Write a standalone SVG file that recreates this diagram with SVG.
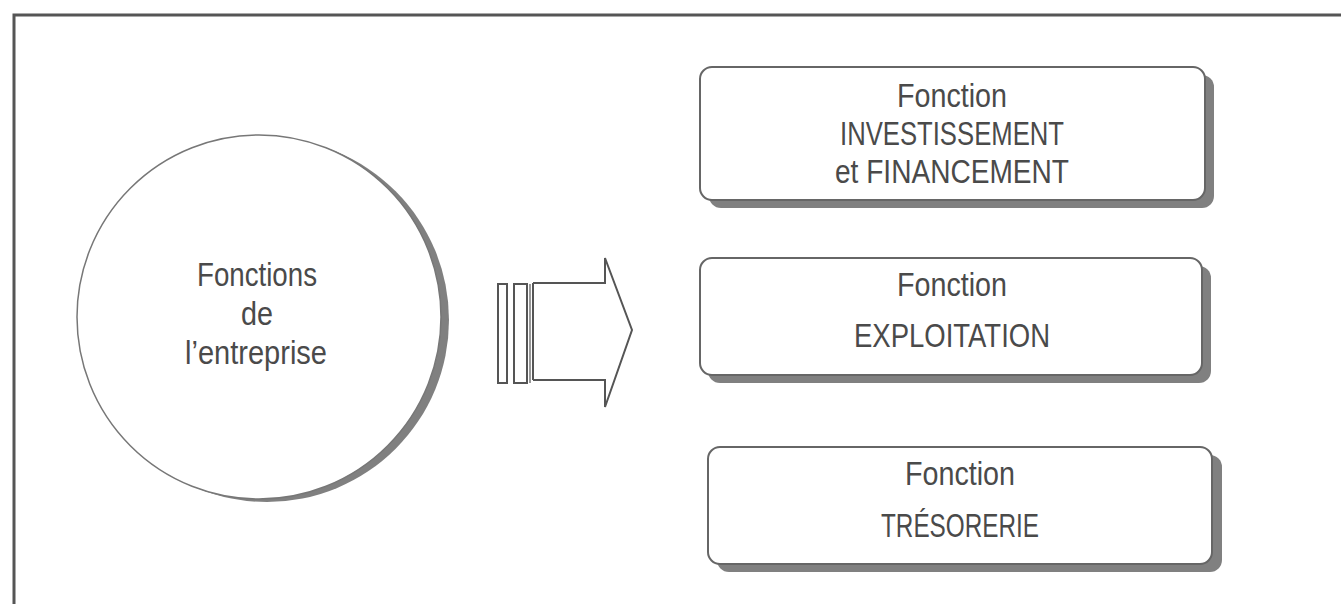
<svg xmlns="http://www.w3.org/2000/svg" width="1341" height="604" viewBox="0 0 1341 604">
<style>
.t{font-family:"Liberation Sans Narrow","Liberation Sans",Arial,sans-serif;font-size:34px;fill:#4a4a4a;text-anchor:middle}
.box{fill:#fff;stroke:#666;stroke-width:2}
.sh{fill:#808080}
.ln{fill:none;stroke:#555;stroke-width:2}
</style>
<rect width="1341" height="604" fill="#fff"/>
<path d="M14 604 V15 H1341" fill="none" stroke="#555" stroke-width="3"/>
<g id="circle">
<circle cx="267" cy="320" r="182" class="sh"/>
<circle cx="259" cy="317" r="182" fill="#fff" stroke="#777" stroke-width="1.5"/>
<text class="t" x="257" y="286" textLength="120" lengthAdjust="spacingAndGlyphs">Fonctions</text>
<text class="t" x="257" y="325" textLength="32" lengthAdjust="spacingAndGlyphs">de</text>
<text class="t" x="256" y="364" textLength="142" lengthAdjust="spacingAndGlyphs">l’entreprise</text>
</g>
<g id="connectors">
<rect x="498" y="284" width="9" height="99" fill="#fff" stroke="#555" stroke-width="2"/>
<rect x="514" y="284" width="13" height="99" fill="#fff" stroke="#555" stroke-width="2"/>
<line x1="530" y1="284" x2="530" y2="383" stroke="#999" stroke-width="2"/>
<path class="ln" d="M533 283 V380 M533 283 H605 V258 L632 330 L605 407 V380 H533"/>
</g>
<g id="box1">
<rect x="709" y="75" width="505" height="133" rx="12" class="sh"/>
<rect x="700" y="67" width="505" height="133" rx="12" class="box"/>
<text class="t" x="952" y="107" textLength="110" lengthAdjust="spacingAndGlyphs">Fonction</text>
<text class="t" x="952" y="145" textLength="224" lengthAdjust="spacingAndGlyphs">INVESTISSEMENT</text>
<text class="t" x="952" y="183" textLength="234" lengthAdjust="spacingAndGlyphs">et FINANCEMENT</text>
</g>
<g id="box2">
<rect x="708" y="266" width="503" height="117" rx="12" class="sh"/>
<rect x="700" y="258" width="502" height="117" rx="12" class="box"/>
<text class="t" x="952" y="296" textLength="110" lengthAdjust="spacingAndGlyphs">Fonction</text>
<text class="t" x="952" y="347" textLength="196" lengthAdjust="spacingAndGlyphs">EXPLOITATION</text>
</g>
<g id="box3">
<rect x="717" y="455" width="505" height="117" rx="12" class="sh"/>
<rect x="708" y="447" width="504" height="117" rx="12" class="box"/>
<text class="t" x="960" y="485" textLength="110" lengthAdjust="spacingAndGlyphs">Fonction</text>
<text class="t" x="960" y="537" textLength="158" lengthAdjust="spacingAndGlyphs">TRÉSORERIE</text>
</g>
</svg>
